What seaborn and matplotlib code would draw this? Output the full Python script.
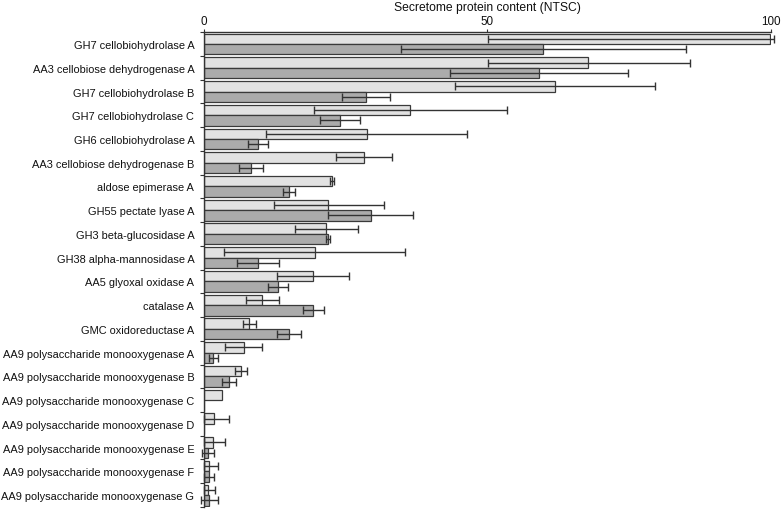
import numpy as np
import pandas as pd
import matplotlib
matplotlib.use("Agg")
import matplotlib.pyplot as plt
import seaborn as sns

categories = [
    "GH7 cellobiohydrolase A",
    "AA3 cellobiose dehydrogenase A",
    "GH7 cellobiohydrolase B",
    "GH7 cellobiohydrolase C",
    "GH6 cellobiohydrolase A",
    "AA3 cellobiose dehydrogenase B",
    "aldose epimerase A",
    "GH55 pectate lyase A",
    "GH3 beta-glucosidase A",
    "GH38 alpha-mannosidase A",
    "AA5 glyoxal oxidase A",
    "catalase A",
    "GMC oxidoreductase A",
    "AA9 polysaccharide monooxygenase A",
    "AA9 polysaccharide monooxygenase B",
    "AA9 polysaccharide monooxygenase C",
    "AA9 polysaccharide monooxygenase D",
    "AA9 polysaccharide monooxygenase E",
    "AA9 polysaccharide monooxygenase F",
    "AA9 polysaccharide monooxygenase G",
]

series_names = ["light", "dark"]

light_values = [99.9, 67.8, 61.9, 36.4, 28.8, 28.2, 22.6, 21.9, 21.5, 19.6,
                19.2, 10.3, 8.0, 7.0, 6.5, 3.1, 1.8, 1.6, 0.9, 0.7]
light_err_lo = [49.8, 17.7, 17.6, 16.9, 17.9, 4.9, 0.3, 9.6, 5.5, 16.1,
                6.4, 2.8, 1.1, 3.3, 1.1, 0.0, 1.8, 1.6, 0.9, 0.7]
light_err_hi = [0.6, 17.9, 17.6, 17.0, 17.6, 5.0, 0.3, 9.8, 5.7, 15.8,
                6.4, 2.9, 1.2, 3.2, 1.1, 0.0, 2.7, 2.1, 1.5, 1.2]

dark_values = [59.9, 59.1, 28.6, 24.0, 9.5, 8.3, 15.0, 29.4, 21.9, 9.5,
               13.1, 19.3, 15.0, 1.6, 4.4, 0.0, 0.0, 0.7, 0.9, 0.9]
dark_err = [25.2, 15.7, 4.3, 3.5, 1.8, 2.1, 1.1, 7.5, 0.3, 3.7,
            1.8, 1.8, 2.2, 0.8, 1.3, 0.0, 0.0, 1.1, 0.9, 1.5]

title = "Secretome protein content (NTSC)"
xticks = [0, 50, 100]

df = pd.DataFrame({
    "protein": categories * 2,
    "sample": [series_names[0]] * len(categories) + [series_names[1]] * len(categories),
    "value": light_values + dark_values,
})

sns.set_style("white")
plt.rcParams["font.family"] = ["Liberation Sans", "DejaVu Sans"]
plt.rcParams["text.color"] = "#111111"
plt.rcParams["axes.labelcolor"] = "#111111"
plt.rcParams["xtick.color"] = "#111111"
plt.rcParams["ytick.color"] = "#111111"

fig = plt.figure(figsize=(7.84, 5.10), dpi=100)
ax = fig.add_axes([0.2602, 0.004, 0.7228, 0.931])

sns.barplot(data=df, y="protein", x="value", hue="sample", order=categories,
            hue_order=series_names, palette=["#e2e2e2", "#ababab"],
            edgecolor="#3a3a3a", linewidth=0.9, width=0.88, errorbar=None,
            legend=False, ax=ax, orient="h")

err_sets = [(light_values, light_err_lo, light_err_hi),
            (dark_values, dark_err, dark_err)]
for cont, (vals, lo, hi) in zip(ax.containers, err_sets):
    for bar, v, l, h in zip(cont, vals, lo, hi):
        if l == 0 and h == 0:
            continue
        yc = bar.get_y() + bar.get_height() / 2
        ax.errorbar([v], [yc], xerr=[[l], [h]], fmt="none", ecolor="#333333",
                    elinewidth=1.0, capsize=2.6, capthick=1.0, clip_on=False)

n = len(categories)
ax.set_xlim(0, 100)
ax.set_ylim(n - 0.5, -0.5)
ax.xaxis.tick_top()
ax.xaxis.set_label_position("top")
ax.set_xticks(xticks)
ax.set_xticklabels([str(t) for t in xticks], fontsize=8.4)
ax.tick_params(axis="x", which="major", direction="out", length=2.5, width=0.8,
               pad=1.5, color="#333333")
ax.set_xlabel(title, fontsize=8.7, labelpad=3.2)
ax.set_ylabel("")
ax.tick_params(axis="y", which="major", length=0, pad=7, labelsize=7.9)
ax.set_yticks(np.arange(-0.5, n, 1.0), minor=True)
ax.tick_params(axis="y", which="minor", direction="out", length=3, width=0.8,
               color="#333333", left=True)

for s in ["right", "bottom"]:
    ax.spines[s].set_visible(False)
for s in ["top", "left"]:
    ax.spines[s].set_color("#333333")
    ax.spines[s].set_linewidth(1.0)

fig.savefig("out.png", dpi=100)
